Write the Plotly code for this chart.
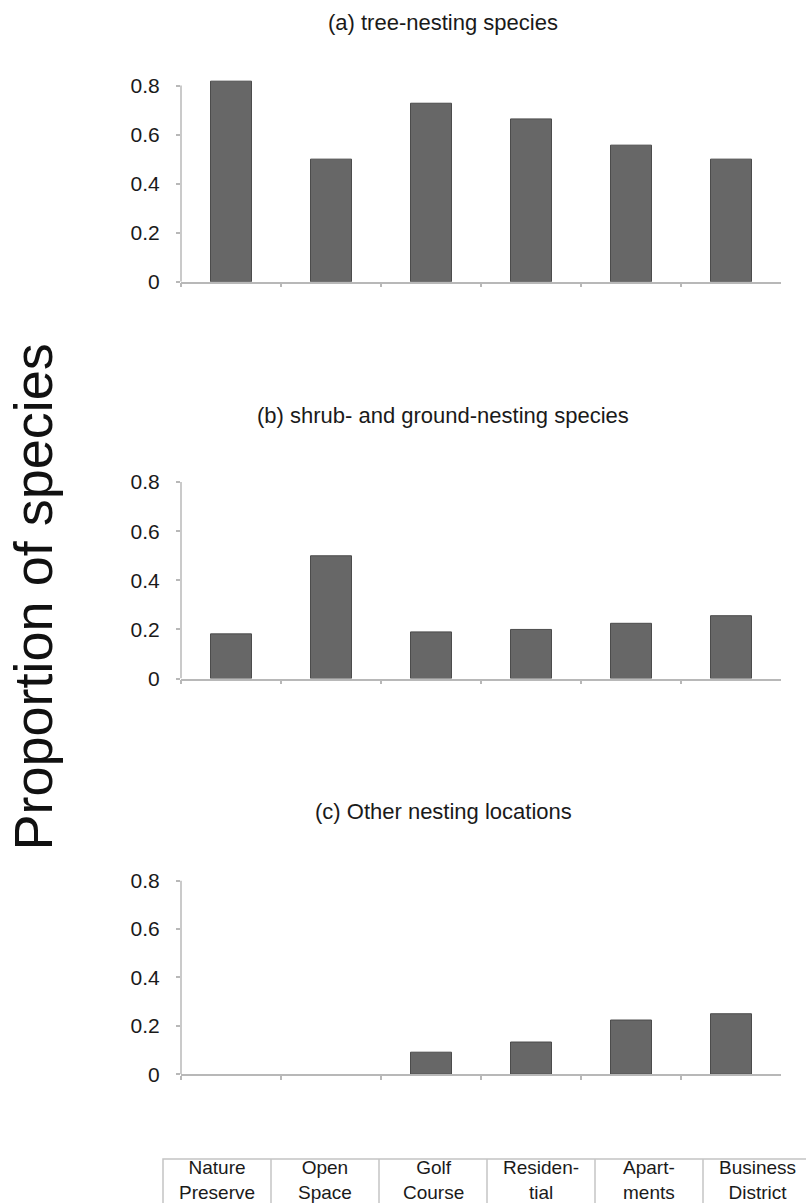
import plotly.graph_objects as go

# ---- data ----
categories = ["Nature Preserve", "Open Space", "Golf Course", "Residential", "Apartments", "Business District"]
table_labels = ["Nature<br>Preserve", "Open<br>Space", "Golf<br>Course", "Residen-<br>tial", "Apart-<br>ments", "Business<br>District"]
tree_nesting = [0.818, 0.5, 0.728, 0.664, 0.557, 0.5]
shrub_ground_nesting = [0.182, 0.5, 0.19, 0.2, 0.225, 0.256]
other_nesting = [0.0, 0.0, 0.091, 0.133, 0.224, 0.25]
panel_titles = ["(a) tree-nesting species", "(b) shrub- and ground-nesting species", "(c) Other nesting locations"]
y_tick_vals = [0, 0.2, 0.4, 0.6, 0.8]
y_tick_text = ["0", "0.2", "0.4", "0.6", "0.8"]
y_label = "Proportion of species"

# ---- geometry (pixels in the 806x1203 reference frame) ----
W, H = 806, 1203
FIG_H = 1215  # page height that maps onto the 1203-px capture
def fx(p):
    return p / W
def fy(p):
    return 1 - p / H

FONT = "Liberation Sans, Arial, sans-serif"
AXIS_COLOR = "#b8b8b8"
BAR_COLOR = "#676767"
TEXT_COLOR = "#1a1a1a"

series = [tree_nesting, shrub_ground_nesting, other_nesting]
# (zero pixel, 0.8 pixel, title pixel)
panel_px = [(281.5, 85.5, 22), (678.0, 481.7, 415), (1073.3, 880.0, 811)]
x_left, x_right = 181, 781
y_max = 0.85

fig = go.Figure()
shapes = []
annotations = []

for i, (vals, title, (z, t8, ty)) in enumerate(zip(series, panel_titles, panel_px)):
    n = "" if i == 0 else str(i + 1)
    per = (z - t8) / 0.8
    top_px = z - y_max * per
    fig.add_trace(go.Bar(
        x=categories, y=vals, xaxis="x" + n, yaxis="y" + n,
        marker=dict(color=BAR_COLOR,
                    line=dict(color="#4c4c4c", width=[1 if v > 0 else 0 for v in vals])),
        showlegend=False, hoverinfo="x+y",
    ))
    fig.layout["xaxis" + n] = dict(
        domain=[fx(x_left), fx(x_right)], anchor="y" + n, type="category",
        range=[-0.5, 5.5], showline=True, linecolor=AXIS_COLOR, linewidth=1.5,
        ticks="outside", tickson="boundaries", ticklen=4, tickcolor=AXIS_COLOR,
        tickwidth=1.5, showticklabels=False, showgrid=False, zeroline=False,
    )
    fig.layout["yaxis" + n] = dict(
        domain=[fy(z), fy(top_px)], anchor="x" + n, range=[0, y_max],
        tickvals=y_tick_vals, ticktext=y_tick_text, ticks="outside", ticklen=4,
        tickcolor=AXIS_COLOR, tickwidth=1.5, showline=False, showgrid=False,
        zeroline=False, ticklabelstandoff=12,
        tickfont=dict(family=FONT, size=21, color=TEXT_COLOR),
    )
    # y axis line up to the top tick only
    shapes.append(dict(
        type="line", xref="x" + n + " domain", yref="y" + n,
        x0=0, x1=0, y0=0, y1=y_tick_vals[-1],
        line=dict(color=AXIS_COLOR, width=1.5), layer="below",
    ))
    annotations.append(dict(
        text=title, xref="paper", yref="paper", x=fx(443), y=fy(ty),
        xanchor="center", yanchor="middle", showarrow=False,
        font=dict(family=FONT, size=22, color=TEXT_COLOR),
    ))

# big y label
annotations.append(dict(
    text=y_label, xref="paper", yref="paper", x=fx(33), y=fy(597),
    xanchor="center", yanchor="middle", textangle=-90, showarrow=False,
    font=dict(family=FONT, size=54, color="#111111"),
))

# category table at the bottom
tbl_left, col_w, tbl_top, tbl_bot = 163, 108, 1158, 1230
shapes.append(dict(
    type="rect", xref="paper", yref="paper",
    x0=fx(tbl_left), x1=fx(tbl_left + col_w * len(table_labels)),
    y0=fy(tbl_bot), y1=fy(tbl_top),
    line=dict(color="#c4c4c4", width=1.5),
))
for k, lab in enumerate(table_labels):
    if k > 0:
        shapes.append(dict(
            type="line", xref="paper", yref="paper",
            x0=fx(tbl_left + col_w * k), x1=fx(tbl_left + col_w * k),
            y0=fy(tbl_bot), y1=fy(tbl_top),
            line=dict(color="#c4c4c4", width=1.5),
        ))
    annotations.append(dict(
        text=lab, xref="paper", yref="paper",
        x=fx(tbl_left + col_w * (k + 0.5)), y=fy(1179),
        xanchor="center", yanchor="middle", showarrow=False,
        font=dict(family=FONT, size=19, color=TEXT_COLOR),
    ))

fig.update_layout(
    width=W, height=FIG_H, margin=dict(l=0, r=0, t=0, b=0),
    paper_bgcolor="white", plot_bgcolor="white",
    bargap=0.59, shapes=shapes, annotations=annotations,
    font=dict(family=FONT, color=TEXT_COLOR),
)

fig.write_html("out.html", config={"displayModeBar": False},
               post_script="document.documentElement.style.margin='0px';document.body.style.margin='0px';document.body.style.overflow='hidden';")
